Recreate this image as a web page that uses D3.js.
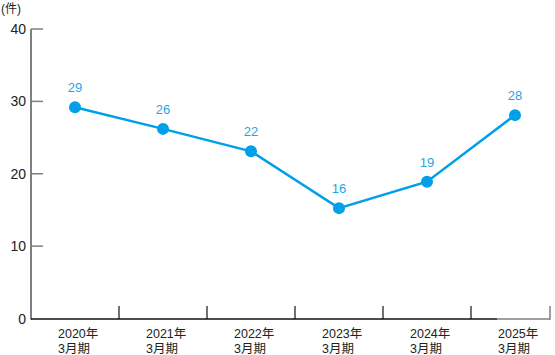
<!DOCTYPE html>
<html><head><meta charset="utf-8">
<script src="https://cdn.jsdelivr.net/npm/d3@7"></script>
<style>
html,body{margin:0;padding:0;background:#fff;}
svg{display:block;font-family:"Liberation Sans","Noto Sans CJK JP",sans-serif;}
</style></head>
<body>
<script>
const categories = ["2020年", "2021年", "2022年", "2023年", "2024年", "2025年"];
const periodLabel = "3月期";
const values = [29.2, 26.2, 23.1, 15.25, 18.9, 28.1];
const valueLabels = ["29", "26", "22", "16", "19", "28"];
const yTicks = [0, 10, 20, 30, 40];
const unitLabel = "(件)";

const W = 555, H = 355;
const svg = d3.select("body").append("svg").attr("width", W).attr("height", H);

const x0 = 31, bandW = 88, axisEnd = 550;
const x = d3.scaleBand().domain(categories).range([x0, x0 + bandW * categories.length]).paddingInner(0).paddingOuter(0);
const y = d3.scaleLinear().domain([0, 40]).range([318.5, 29]);

const grey = "#7f7f7f";
const blue = "#00a0e9";

// y axis
svg.append("line").attr("x1", x0).attr("x2", x0).attr("y1", y(40)).attr("y2", 319.5)
  .attr("stroke", grey).attr("stroke-width", 2);
svg.selectAll(".ytick").data(yTicks.filter(d => d > 0)).enter().append("line")
  .attr("x1", x0).attr("x2", x0 + 12).attr("y1", d => y(d)).attr("y2", d => y(d))
  .attr("stroke", grey).attr("stroke-width", 1.5);
svg.selectAll(".ylab").data(yTicks).enter().append("text")
  .attr("x", 26).attr("y", d => y(d)).attr("dy", "0.36em")
  .attr("text-anchor", "end").attr("font-size", 14).attr("fill", "#222")
  .text(d => d);

// x axis baseline
const base = 319;
svg.append("line").attr("x1", x0).attr("x2", 497).attr("y1", base).attr("y2", base)
  .attr("stroke", "#111").attr("stroke-width", 1.5);
svg.append("line").attr("x1", 497).attr("x2", axisEnd).attr("y1", base).attr("y2", base)
  .attr("stroke", grey).attr("stroke-width", 1.5);
const bounds = categories.slice(1).map(c => x(c));
svg.selectAll(".xtick").data(bounds).enter().append("line")
  .attr("x1", d => d).attr("x2", d => d).attr("y1", base).attr("y2", base - 13)
  .attr("stroke", "#111").attr("stroke-width", 1.2);
svg.append("line").attr("x1", axisEnd).attr("x2", axisEnd).attr("y1", base + 0.7).attr("y2", base - 13)
  .attr("stroke", grey).attr("stroke-width", 1.5);

// x labels
const xl = svg.selectAll(".xlab").data(categories).enter().append("text")
  .attr("font-size", 12.5).attr("fill", "#222");
xl.append("tspan").attr("x", d => x(d) + x.bandwidth() / 2 - 17).attr("y", 338).text(d => d);
xl.append("tspan").attr("x", d => x(d) + x.bandwidth() / 2 - 17).attr("y", 353).text(periodLabel);

// unit label
svg.append("text").attr("x", 1).attr("y", 13).attr("font-size", 12).attr("fill", "#222").text(unitLabel);

// line
const cx = d => x(d) + x.bandwidth() / 2;
const line = d3.line().x((d, i) => cx(categories[i])).y(d => y(d));
svg.append("path").datum(values).attr("d", line).attr("fill", "none")
  .attr("stroke", blue).attr("stroke-width", 2.5);
svg.selectAll(".pt").data(values).enter().append("circle")
  .attr("cx", (d, i) => cx(categories[i])).attr("cy", d => y(d)).attr("r", 6).attr("fill", blue);
svg.selectAll(".vl").data(values).enter().append("text")
  .attr("x", (d, i) => cx(categories[i])).attr("y", d => y(d) - 15)
  .attr("text-anchor", "middle").attr("font-size", 13).attr("fill", "#1ea6e6")
  .text((d, i) => valueLabels[i]);
</script>
</body></html>
